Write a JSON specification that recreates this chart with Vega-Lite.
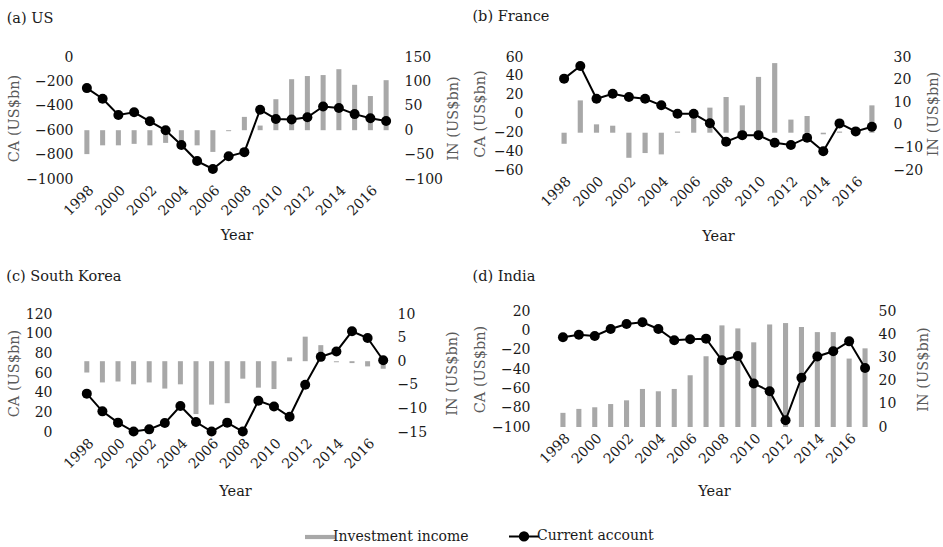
{
  "$schema": "https://vega.github.io/schema/vega-lite/v6.json",
  "background": "white",
  "padding": {"left": 6, "top": 8, "right": 2, "bottom": 5},
  "datasets": {
    "us": [
      {"year": 1998, "ca": -255, "inv": -49},
      {"year": 1999, "ca": -342, "inv": -31},
      {"year": 2000, "ca": -475, "inv": -31},
      {"year": 2001, "ca": -453, "inv": -28},
      {"year": 2002, "ca": -527, "inv": -31},
      {"year": 2003, "ca": -601, "inv": -26},
      {"year": 2004, "ca": -722, "inv": -31},
      {"year": 2005, "ca": -853, "inv": -31},
      {"year": 2006, "ca": -918, "inv": -44.5},
      {"year": 2007, "ca": -814, "inv": -2},
      {"year": 2008, "ca": -780, "inv": 27.3},
      {"year": 2009, "ca": -432, "inv": 9.5},
      {"year": 2010, "ca": -508, "inv": 63.5},
      {"year": 2011, "ca": -513, "inv": 104.5},
      {"year": 2012, "ca": -494, "inv": 111},
      {"year": 2013, "ca": -406, "inv": 113},
      {"year": 2014, "ca": -418, "inv": 125},
      {"year": 2015, "ca": -468, "inv": 93},
      {"year": 2016, "ca": -502, "inv": 70},
      {"year": 2017, "ca": -525, "inv": 102.5}
    ],
    "fr": [
      {"year": 1998, "ca": 37, "inv": -8.4},
      {"year": 1999, "ca": 50.5, "inv": 10.8},
      {"year": 2000, "ca": 15.7, "inv": 0.2},
      {"year": 2001, "ca": 21, "inv": -0.4},
      {"year": 2002, "ca": 17.5, "inv": -14.6},
      {"year": 2003, "ca": 15.7, "inv": -12.5},
      {"year": 2004, "ca": 8.7, "inv": -13.1},
      {"year": 2005, "ca": -0.3, "inv": -3.0},
      {"year": 2006, "ca": -0.3, "inv": 3.8},
      {"year": 2007, "ca": -10.3, "inv": 7.6},
      {"year": 2008, "ca": -30, "inv": 12.3},
      {"year": 2009, "ca": -23, "inv": 8.6},
      {"year": 2010, "ca": -23, "inv": 21.2},
      {"year": 2011, "ca": -31, "inv": 27.3},
      {"year": 2012, "ca": -33.5, "inv": 2.3},
      {"year": 2013, "ca": -25.7, "inv": 3.9},
      {"year": 2014, "ca": -40, "inv": -4.2},
      {"year": 2015, "ca": -10.5, "inv": -3.0},
      {"year": 2016, "ca": -19, "inv": -3.5},
      {"year": 2017, "ca": -14, "inv": 8.6}
    ],
    "kr": [
      {"year": 1998, "ca": 39, "inv": -2.4},
      {"year": 1999, "ca": 21, "inv": -4.5},
      {"year": 2000, "ca": 9.5, "inv": -4.3},
      {"year": 2001, "ca": 0.5, "inv": -4.9},
      {"year": 2002, "ca": 2.7, "inv": -4.5},
      {"year": 2003, "ca": 9.1, "inv": -5.8},
      {"year": 2004, "ca": 26.4, "inv": -4.9},
      {"year": 2005, "ca": 10.1, "inv": -11.2},
      {"year": 2006, "ca": 0.5, "inv": -9.2},
      {"year": 2007, "ca": 9.5, "inv": -8.9},
      {"year": 2008, "ca": 0.5, "inv": -3.7},
      {"year": 2009, "ca": 31.8, "inv": -5.6},
      {"year": 2010, "ca": 26, "inv": -5.9},
      {"year": 2011, "ca": 15.5, "inv": 0.8},
      {"year": 2012, "ca": 48, "inv": 5.2},
      {"year": 2013, "ca": 76.4, "inv": 3.4},
      {"year": 2014, "ca": 81.8, "inv": -0.2},
      {"year": 2015, "ca": 102.4, "inv": -0.4},
      {"year": 2016, "ca": 95.6, "inv": -1.1},
      {"year": 2017, "ca": 73, "inv": -1.6}
    ],
    "in": [
      {"year": 1998, "ca": -7.2, "inv": 6.1},
      {"year": 1999, "ca": -4.5, "inv": 7.8},
      {"year": 2000, "ca": -5.9, "inv": 8.5},
      {"year": 2001, "ca": 1.4, "inv": 9.9},
      {"year": 2002, "ca": 6.6, "inv": 11.5},
      {"year": 2003, "ca": 8.3, "inv": 16.4},
      {"year": 2004, "ca": 1.4, "inv": 15.4},
      {"year": 2005, "ca": -10.3, "inv": 16.4},
      {"year": 2006, "ca": -9.3, "inv": 22.3},
      {"year": 2007, "ca": -8.6, "inv": 30.5},
      {"year": 2008, "ca": -31, "inv": 43.8},
      {"year": 2009, "ca": -26.5, "inv": 42.5},
      {"year": 2010, "ca": -55, "inv": 36.5},
      {"year": 2011, "ca": -63, "inv": 44.2},
      {"year": 2012, "ca": -93, "inv": 44.8},
      {"year": 2013, "ca": -49, "inv": 43.1},
      {"year": 2014, "ca": -27, "inv": 40.9},
      {"year": 2015, "ca": -21.7, "inv": 40.9},
      {"year": 2016, "ca": -11.4, "inv": 29.5},
      {"year": 2017, "ca": -39, "inv": 33.9}
    ]
  },
  "config": {
    "font": "DejaVu Serif",
    "view": {"stroke": null},
    "axis": {
      "grid": false, "domain": false, "ticks": false, "labelOverlap": false, "format": "d",
      "labelFont": "DejaVu Serif", "labelFontSize": 14, "labelColor": "#1a1a1a",
      "titleFont": "DejaVu Serif", "titleFontSize": 14.5, "titleFontWeight": "normal", "titleColor": "#5a5a5a"
    },
    "axisX": {"labelAngle": -45, "labelAlign": "right", "labelBaseline": "top", "labelPadding": 4, "titlePadding": 10, "titleColor": "#1a1a1a"},
    "axisLeft": {"labelPadding": 6, "titlePadding": 4, "labelOverlap": false},
    "axisRight": {"labelPadding": 10, "titlePadding": 4, "titleAngle": -90, "titleBaseline": "top"},
    "title": {"font": "DejaVu Serif", "fontSize": 14.5, "fontWeight": "normal", "anchor": "start", "frame": "bounds", "color": "#1a1a1a"},
    "legend": {
      "orient": "none", "legendX": 234, "legendY": 472, "direction": "horizontal", "title": null,
      "labelFont": "DejaVu Serif", "labelFontSize": 14, "labelColor": "#1a1a1a",
      "symbolSize": 900, "columnPadding": 36, "labelOffset": 6
    }
  },
  "columns": 2,
  "align": "none",
  "spacing": {"row": 25, "column": 12},
  "concat": [
    {
      "title": {"text": "(a) US", "offset": 24},
      "width": 315, "height": 122,
      "data": {"name": "us"},
      "encoding": {
        "x": {"field": "year", "type": "ordinal", "scale": {"paddingInner": 0, "paddingOuter": 0},
              "axis": {"title": "Year", "values": [1998, 2000, 2002, 2004, 2006, 2008, 2010, 2012, 2014, 2016]}}
      },
      "layer": [
        {
          "mark": {"type": "bar", "width": {"band": 0.32}},
          "encoding": {
            "y": {"field": "inv", "type": "quantitative", "scale": {"domain": [-100, 150], "nice": false, "zero": false},
                  "axis": {"orient": "right", "title": "IN (US$bn)", "labelPadding": 10, "titlePadding": 4, "values": [-100, -50, 0, 50, 100, 150]}},
            "color": {"datum": "Investment income", "scale": {"domain": ["Investment income", "Current account"], "range": ["#a8a8a8", "#000000"]},
              "legend": {
                "symbolSize": 900,
                "labelOffset": 6,
                "encode": {"symbols": {"update": {
                  "shape": {"signal": "datum.value === 'Investment income' ? 'M-1,-0.14H1V0.14H-1Z' : 'M-1,0H1M0.28,0A0.28,0.28,0,1,1,-0.28,0A0.28,0.28,0,1,1,0.28,0Z'"},
                  "fill": {"signal": "datum.value === 'Investment income' ? '#a8a8a8' : '#000000'"},
                  "stroke": {"signal": "datum.value === 'Investment income' ? 'transparent' : '#000000'"},
                  "strokeWidth": {"signal": "datum.value === 'Investment income' ? 0 : 2"},
                  "opacity": {"value": 1},
                  "fillOpacity": {"value": 1},
                  "size": {"value": 900}
                }}}
              }}
          }
        },
        {"mark": {"type": "rule", "color": "#000000", "strokeWidth": 2},
         "encoding": {"y": {"datum": 0, "type": "quantitative", "scale": {"domain": [-1000, 0], "nice": false, "zero": false}, "axis": null}}},
        {"mark": {"type": "line", "strokeWidth": 2, "point": {"filled": true, "size": 100, "opacity": 1}},
         "encoding": {
           "y": {"field": "ca", "type": "quantitative", "scale": {"domain": [-1000, 0], "nice": false, "zero": false},
                 "axis": {"orient": "left", "title": "CA (US$bn)", "labelOverlap": false, "labelPadding": 6, "titlePadding": 4, "values": [-1000, -800, -600, -400, -200, 0]}},
           "color": {"datum": "Current account"}
         }}
      ],
      "resolve": {"scale": {"y": "independent"}}
    },
    {
      "title": {"text": "(b) France", "offset": 26},
      "width": 324, "height": 113,
      "data": {"name": "fr"},
      "encoding": {
        "x": {"field": "year", "type": "ordinal", "scale": {"paddingInner": 0, "paddingOuter": 0},
              "axis": {"title": "Year", "titlePadding": 20, "values": [1998, 2000, 2002, 2004, 2006, 2008, 2010, 2012, 2014, 2016]}}
      },
      "layer": [
        {
          "mark": {"type": "bar", "width": {"band": 0.32}},
          "encoding": {
            "y": {"field": "inv", "type": "quantitative", "scale": {"domain": [-20, 30], "nice": false, "zero": false},
                  "axis": {"orient": "right", "title": "IN (US$bn)", "labelPadding": 13, "titlePadding": 4, "values": [-20, -10, 0, 10, 20, 30]}},
            "y2": {"datum": -3.5},
            "color": {"datum": "Investment income"}
          }
        },
        {"mark": {"type": "rule", "color": "#000000", "strokeWidth": 1.6},
         "encoding": {"y": {"datum": 0, "type": "quantitative", "scale": {"domain": [-60, 60], "nice": false, "zero": false}, "axis": null}}},
        {"mark": {"type": "line", "strokeWidth": 2, "point": {"filled": true, "size": 100, "opacity": 1}},
         "encoding": {
           "y": {"field": "ca", "type": "quantitative", "scale": {"domain": [-60, 60], "nice": false, "zero": false},
                 "axis": {"orient": "left", "title": "CA (US$bn)", "labelOverlap": false, "labelPadding": 33, "titlePadding": 6, "values": [-60, -40, -20, 0, 20, 40, 60]}},
           "color": {"datum": "Current account"}
         }}
      ],
      "resolve": {"scale": {"y": "independent"}}
    },
    {
      "title": {"text": "(c) South Korea", "offset": 23},
      "width": 312, "height": 118,
      "data": {"name": "kr"},
      "encoding": {
        "x": {"field": "year", "type": "ordinal", "scale": {"paddingInner": 0, "paddingOuter": 0},
              "axis": {"title": "Year", "titlePadding": 13, "values": [1998, 2000, 2002, 2004, 2006, 2008, 2010, 2012, 2014, 2016]}}
      },
      "layer": [
        {
          "mark": {"type": "bar", "width": {"band": 0.32}},
          "encoding": {
            "y": {"field": "inv", "type": "quantitative", "scale": {"domain": [-15, 10], "nice": false, "zero": false},
                  "axis": {"orient": "right", "title": "IN (US$bn)", "labelPadding": 6, "titlePadding": 19, "values": [-15, -10, -5, 0, 5, 10]}},
            "color": {"datum": "Investment income"}
          }
        },
        {"mark": {"type": "rule", "color": "#000000", "strokeWidth": 2},
         "encoding": {"y": {"datum": 0, "type": "quantitative", "scale": {"domain": [0, 120], "nice": false, "zero": false}, "axis": null}}},
        {"mark": {"type": "line", "strokeWidth": 2, "point": {"filled": true, "size": 100, "opacity": 1}},
         "encoding": {
           "y": {"field": "ca", "type": "quantitative", "scale": {"domain": [0, 120], "nice": false, "zero": false},
                 "axis": {"orient": "left", "title": "CA (US$bn)", "labelOverlap": false, "labelPadding": 27, "titlePadding": 4, "values": [0, 20, 40, 60, 80, 100, 120]}},
           "color": {"datum": "Current account"}
         }}
      ],
      "resolve": {"scale": {"y": "independent"}}
    },
    {
      "title": {"text": "(d) India", "offset": 20},
      "width": 318, "height": 116,
      "data": {"name": "in"},
      "encoding": {
        "x": {"field": "year", "type": "ordinal", "scale": {"paddingInner": 0, "paddingOuter": 0},
              "axis": {"title": "Year", "titlePadding": 18, "values": [1998, 2000, 2002, 2004, 2006, 2008, 2010, 2012, 2014, 2016]}}
      },
      "layer": [
        {
          "mark": {"type": "bar", "width": {"band": 0.32}},
          "encoding": {
            "y": {"field": "inv", "type": "quantitative", "scale": {"domain": [0, 50], "nice": false, "zero": false},
                  "axis": {"orient": "right", "title": "IN (US$bn)", "labelPadding": 5, "titlePadding": 21, "values": [0, 10, 20, 30, 40, 50]}},
            "color": {"datum": "Investment income"}
          }
        },
        {"mark": {"type": "rule", "color": "#000000", "strokeWidth": 2},
         "encoding": {"y": {"datum": 0, "type": "quantitative", "scale": {"domain": [-100, 20], "nice": false, "zero": false}, "axis": null}}},
        {"mark": {"type": "line", "strokeWidth": 2, "point": {"filled": true, "size": 100, "opacity": 1}},
         "encoding": {
           "y": {"field": "ca", "type": "quantitative", "scale": {"domain": [-100, 20], "nice": false, "zero": false},
                 "axis": {"orient": "left", "title": "CA (US$bn)", "labelOverlap": false, "labelPadding": 25, "titlePadding": 4, "values": [-100, -80, -60, -40, -20, 0, 20]}},
           "color": {"datum": "Current account"}
         }}
      ],
      "resolve": {"scale": {"y": "independent"}}
    }
  ]
}
